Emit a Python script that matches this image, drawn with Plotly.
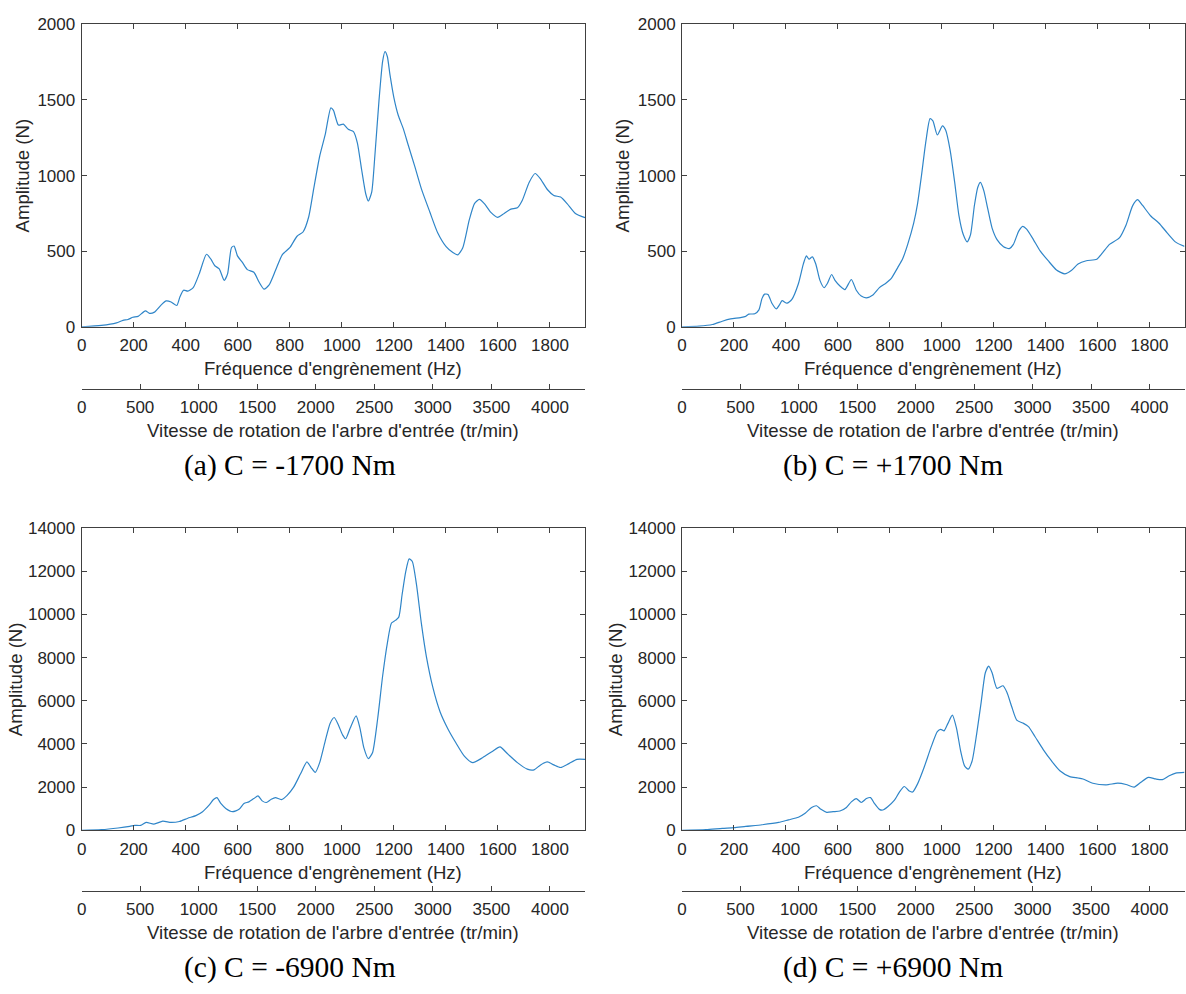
import plotly.graph_objects as go

W, H = 1186, 994

HZ_MAX = 1935
RPM_MAX = 4300

# (a) C = -1700 Nm
a_hz = [0, 76, 134, 159, 178, 197, 217, 245, 261, 280, 306, 325, 344, 366, 378, 392, 408, 429, 452, 480,
        497, 512, 529, 548, 561, 576, 586, 599, 618, 637, 662, 682, 701, 720, 745, 771, 800, 828, 851, 873,
        892, 915, 936, 958, 968, 987, 1006, 1025, 1045, 1060, 1076, 1092, 1102, 1115, 1127, 1143, 1157, 1166,
        1175, 1185, 1200, 1217, 1236, 1255, 1280, 1306, 1338, 1369, 1401, 1427, 1446, 1465, 1490, 1510, 1529,
        1548, 1573, 1599, 1624, 1650, 1675, 1694, 1720, 1743, 1764, 1790, 1815, 1841, 1866, 1898, 1935]
a_amp = [0, 9, 26, 43, 48, 63, 69, 106, 89, 97, 145, 171, 164, 141, 199, 242, 236, 259, 350, 480,
         447, 404, 383, 307, 350, 523, 534, 469, 426, 378, 361, 296, 249, 275, 372, 476, 523, 599, 627, 728,
         912, 1128, 1269, 1448, 1431, 1334, 1340, 1306, 1291, 1215, 1042, 880, 832, 891, 1128, 1496, 1755, 1820,
         1788, 1669, 1518, 1399, 1312, 1204, 1064, 912, 761, 620, 530, 491, 476, 523, 707, 815, 843,
         815, 757, 724, 750, 778, 787, 837, 955, 1014, 977, 908, 869, 858, 815, 750, 722]

# (b) C = +1700 Nm
b_hz = [0, 66, 117, 155, 187, 225, 245, 257, 280, 296, 308, 318, 331, 346, 363, 375, 385, 404, 423, 448,
        467, 479, 489, 502, 515, 531, 547, 559, 576, 589, 608, 627, 652, 671, 690, 710, 735, 760, 786, 805,
        831, 850, 869, 892, 907, 922, 939, 955, 966, 983, 1003, 1015, 1032, 1050, 1066, 1083, 1098, 1111,
        1126, 1139, 1149, 1162, 1177, 1194, 1213, 1238, 1260, 1276, 1296, 1312, 1327, 1353, 1379, 1410,
        1442, 1474, 1499, 1525, 1557, 1597, 1620, 1646, 1684, 1710, 1735, 1754, 1773, 1805, 1837, 1869,
        1901, 1935]
b_amp = [0, 4, 15, 37, 52, 61, 69, 84, 86, 112, 188, 216, 214, 156, 119, 145, 173, 156, 182, 285,
         415, 469, 447, 463, 415, 307, 259, 285, 346, 307, 270, 246, 313, 242, 203, 192, 210, 259, 290, 318,
         393, 452, 545, 685, 815, 999, 1226, 1377, 1362, 1269, 1329, 1301, 1172, 955, 739, 610, 562, 610,
         804, 923, 955, 901, 783, 653, 577, 530, 517, 545, 631, 664, 646, 577, 502, 437,
         376, 350, 372, 415, 437, 447, 491, 545, 588, 674, 800, 841, 804, 733, 685, 620,
         560, 532]

# (c) C = -6900 Nm
c_hz = [0, 76, 140, 185, 204, 227, 248, 278, 312, 344, 376, 408, 439, 465, 490, 507, 520, 535, 554, 580,
        605, 624, 643, 662, 678, 694, 710, 729, 745, 768, 790, 815, 841, 866, 882, 898, 915, 936, 955, 971,
        987, 1003, 1015, 1032, 1055, 1070, 1085, 1102, 1118, 1138, 1157, 1175, 1191, 1206, 1219, 1232, 1246,
        1259, 1271, 1287, 1306, 1325, 1350, 1378, 1408, 1439, 1471, 1503, 1541, 1580, 1608, 1637, 1675,
        1713, 1739, 1764, 1790, 1815, 1841, 1873, 1904, 1935]
c_amp = [0, 30, 106, 182, 227, 227, 364, 288, 424, 364, 409, 561, 682, 864, 1167, 1424, 1515, 1242, 1015, 864,
         970, 1242, 1318, 1470, 1591, 1364, 1288, 1439, 1515, 1424, 1621, 2000, 2606, 3166, 2909, 2682, 3136,
         4121, 4954, 5227, 4878, 4424, 4242, 4727, 5303, 4727, 3818, 3318, 3591, 5181, 7151, 8666, 9605,
         9727, 9878, 10939, 12000, 12575, 12454, 11393, 9575, 8060, 6621, 5484, 4697, 4045, 3439, 3136,
         3363, 3666, 3863, 3545, 3136, 2833, 2803, 3030, 3166, 3030, 2909, 3091, 3288, 3288]

# (d) C = +6900 Nm
d_hz = [0, 92, 155, 200, 245, 308, 372, 410, 448, 474, 499, 518, 535, 557, 582, 608, 633, 652, 671, 690,
        710, 726, 741, 760, 773, 792, 818, 837, 856, 875, 888, 907, 932, 958, 983, 996, 1009, 1024, 1041,
        1057, 1073, 1088, 1102, 1117, 1134, 1152, 1168, 1181, 1194, 1213, 1236, 1251, 1270, 1289, 1315,
        1334, 1359, 1391, 1423, 1455, 1493, 1525, 1544, 1582, 1633, 1678, 1710, 1741, 1767, 1796, 1824,
        1850, 1876, 1901, 1935]
d_amp = [0, 30, 91, 121, 182, 258, 364, 485, 606, 788, 1060, 1136, 970, 833, 864, 894, 1060, 1318, 1470, 1288,
         1470, 1515, 1242, 970, 939, 1091, 1394, 1773, 2030, 1818, 1773, 2151, 2909, 3818, 4575, 4681, 4606,
         4954, 5333, 4727, 3666, 2985, 2833, 3212, 4424, 5939, 7302, 7605, 7302, 6575, 6696, 6393, 5712,
         5106, 4954, 4803, 4348, 3742, 3212, 2757, 2485, 2424, 2379, 2182, 2106, 2182, 2121, 2000, 2227,
         2454, 2379, 2348, 2530, 2651, 2682]

captions = ["(a) C&nbsp;=&nbsp;-1700 Nm", "(b) C&nbsp;=&nbsp;+1700 Nm",
            "(c) C&nbsp;=&nbsp;-6900 Nm", "(d) C&nbsp;=&nbsp;+6900 Nm"]
series = [(a_hz, a_amp), (b_hz, b_amp), (c_hz, c_amp), (d_hz, d_amp)]
ymax = [2000, 2000, 14000, 14000]
ystep = [500, 500, 2000, 2000]

# pixel geometry of each panel: left, right, top, bottom, rpm axis line
cols = [(77, 583), (680.5, 1185.5)]
rows = [(15.7, 324, 387), (529.3, 837.3, 899)]

LINE = "#2f85c8"
AXC = "#404040"
TXT = "#262626"
SANS = "Liberation Sans, Arial, sans-serif"


def px(x):
    return x / W


def py(y):
    return 1 - y / H


fig = go.Figure()
annotations = []
layout = {}

for i, (hz, amp) in enumerate(series):
    n = i + 1
    r, c = divmod(i, 2)
    left, right = cols[c]
    top, bottom, rpm_y = rows[r]
    xa = "x" if n == 1 else f"x{n}"
    ya = "y" if n == 1 else f"y{n}"
    xr = f"x{n + 4}"

    fig.add_trace(go.Scatter(x=hz, y=amp, xaxis=xa, yaxis=ya, mode="lines",
                             line=dict(color=LINE, width=1.2, shape="spline", smoothing=0.6),
                             showlegend=False))
    # invisible trace so the rpm axis gets drawn
    fig.add_trace(go.Scatter(x=[0, RPM_MAX], y=[0, 0], xaxis=xr, yaxis=ya, mode="lines",
                             line=dict(color="rgba(0,0,0,0)", width=0), hoverinfo="skip",
                             showlegend=False))

    common = dict(showline=True, linecolor=AXC, linewidth=1, ticks="inside", ticklen=5,
                  tickcolor=AXC, showgrid=False, zeroline=False, tickformat="d",
                  tickfont=dict(family=SANS, size=17, color=TXT))
    layout["xaxis" if n == 1 else f"xaxis{n}"] = dict(
        common, domain=[px(left), px(right)], anchor=ya, range=[0, HZ_MAX],
        tick0=0, dtick=200, mirror="ticks", ticklabelstandoff=3)
    layout["yaxis" if n == 1 else f"yaxis{n}"] = dict(
        common, domain=[py(bottom), py(top)], anchor=xa, range=[0, ymax[i]],
        tick0=0, dtick=ystep[i], mirror="ticks", ticklabelstandoff=2)
    layout[f"xaxis{n + 4}"] = dict(
        common, overlaying=xa, anchor="free", position=py(rpm_y), range=[0, RPM_MAX],
        tick0=0, dtick=500, side="bottom", ticklabelstandoff=3)

    mid = (left + right) / 2
    annotations.append(dict(text="Fréquence d'engrènement (Hz)", x=px(mid), y=py(367 + 513 * r),
                            font=dict(family=SANS, size=18.6, color=TXT)))
    annotations.append(dict(text="Vitesse de rotation de l'arbre d'entrée (tr/min)", x=px(mid),
                            y=py(430 + 512 * r), font=dict(family=SANS, size=18.6, color=TXT)))
    annotations.append(dict(text="Amplitude (N)", textangle=-90, x=px([18, 621][c] - 8 * r),
                            y=py((top + bottom) / 2), font=dict(family=SANS, size=18.6, color=TXT)))
    annotations.append(dict(text=captions[i], x=px([286, 893][c]), y=py(465 + 512 * r),
                            font=dict(family="Liberation Serif, Times New Roman, serif", size=29.5,
                                      color="black")))

for a in annotations:
    a.update(xref="paper", yref="paper", showarrow=False, xanchor="center", yanchor="middle")

fig.update_layout(**layout)
fig.update_layout(width=W, height=H, margin=dict(l=0, r=0, t=0, b=0),
                  paper_bgcolor="white", plot_bgcolor="white",
                  annotations=annotations, showlegend=False)

# drop the browser's default 8px body margin so the figure fills the window exactly
fig.write_html("out.html", config={"displayModeBar": False},
               post_script="document.body.style.margin='0';"
                           "document.documentElement.style.overflow='hidden';")
